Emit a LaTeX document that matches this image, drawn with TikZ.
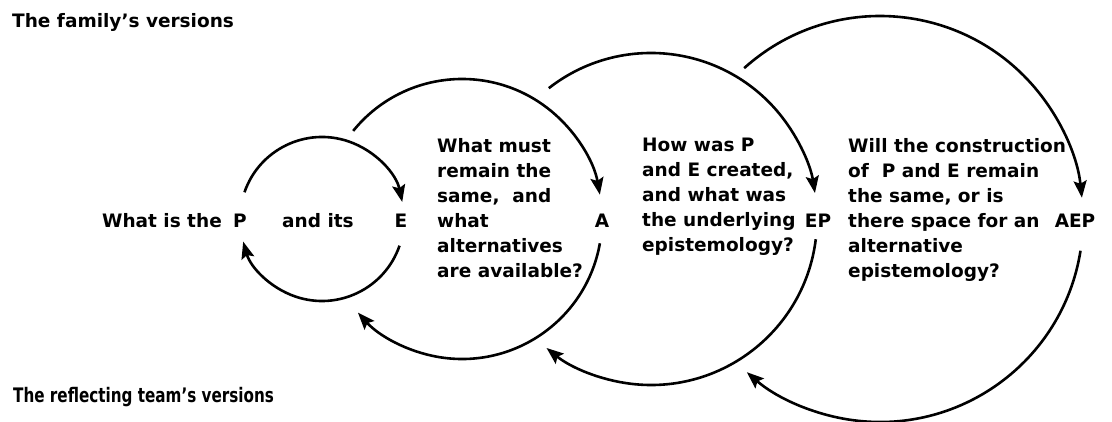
\documentclass[tikz,border=0pt]{standalone}
\usepackage{fontspec}
\setmainfont{DejaVu Sans}
\newfontfamily\narrowfont[FakeStretch=0.76]{DejaVu Sans}
\usetikzlibrary{arrows.meta}
\tikzset{
  lbl/.style={inner sep=0pt,font=\fontsize{18.5}{25}\selectfont\bfseries},
  txt/.style={lbl,align=left,anchor=base west},
  ttl/.style={inner sep=0pt,anchor=base west,font=\fontsize{18.5}{22}\selectfont\bfseries},
  arr/.style={-{Stealth[length=17pt,width=13pt,inset=3pt]},line width=2.6pt},
}
\begin{document}
\begin{tikzpicture}[x=1pt,y=1pt]
\useasboundingbox (0,0) rectangle (1112,422);
% the four loops: centre x, radius, upper arc, lower arc
\foreach \i/\cx/\r/\ua/\ub/\la/\lb in {1/322/82/161/12/-19/-164,2/462/140/141/10/-10/-138,3/651/166/128/9/-7/-129,4/880/203/132/6/-9/-131} {
  \coordinate (c\i) at (\cx,203);
  \draw[arr] ([shift={(\ua:\r)}]c\i) arc[start angle=\ua,end angle=\ub,radius=\r];
  \draw[arr] ([shift={(\la:\r)}]c\i) arc[start angle=\la,end angle=\lb,radius=\r];
}
\node[ttl] (fam) at (12,394) {The family’s versions};
\node[ttl,font=\fontsize{20}{22}\selectfont\narrowfont\bfseries] (team) at (13,19) {The reflecting team’s versions};
\node[lbl,anchor=base east] (q0) at (222,194) {What is the};
\node[lbl,anchor=base] (p) at (240,194) {P};
\node[lbl,anchor=base west] (q1) at (282,194) {and its};
\node[lbl,anchor=base] (e) at (401,194) {E};
\node[lbl,anchor=base] (a) at (602,194) {A};
\node[lbl,anchor=base] (ep) at (818,194) {EP};
\node[lbl,anchor=base] (aep) at (1075,194) {AEP};
% question blocks, placed by their last line
\node[txt] (qa) at (437,144) {What must\\remain the\\same, \ and\\what\\alternatives\\are available?};
\node[txt] (qep) at (642,170) {How was P\\and E created,\\and what was\\the underlying\\epistemology?};
\node[txt] (qaep) at (848,144) {Will the construction\\of \ P and E remain\\the same, or is\\there space for an\\alternative\\epistemology?};
\end{tikzpicture}
\end{document}
